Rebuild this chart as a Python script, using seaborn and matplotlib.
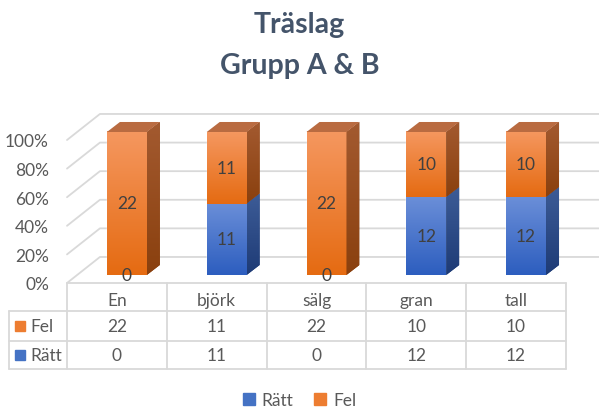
import numpy as np
import pandas as pd
import matplotlib
matplotlib.use("Agg")
import matplotlib.pyplot as plt
from matplotlib.patches import Polygon, Patch
from matplotlib.colors import LinearSegmentedColormap
import seaborn as sns

# data
categories = ["En", "björk", "sälg", "gran", "tall"]
ratt = [0, 11, 0, 12, 12]
fel = [22, 11, 22, 10, 10]
series_names = ["Rätt", "Fel"]
title_lines = ["Träslag", "Grupp A & B"]
yticks = [0, 20, 40, 60, 80, 100]

df = pd.DataFrame({"Träslag": categories, "Rätt": ratt, "Fel": fel})
df["Rätt %"] = 100 * df["Rätt"] / (df["Rätt"] + df["Fel"])
df["Total %"] = 100.0

sns.set_theme(style="white")
plt.rcParams["font.family"] = ["Lato", "DejaVu Sans"]

ORANGE = "#ED7D31"
BLUE = "#4472C4"
TXT = "#595959"
GRID = "#D9D9D9"
FS = 12.5

W, H = 599, 410
fig = plt.figure(figsize=(W / 100, H / 100), dpi=100, facecolor="white")


def box(x0, y_bottom, w, h):
    # pixel box (top-left origin) -> figure fraction
    return [x0 / W, 1 - y_bottom / H, w / W, h / H]


# front plane of the 3D floor / walls
ax = fig.add_axes(box(67, 284, 499, 143))
ax.patch.set_visible(False)
ax.set_xlim(-0.5, 4.5)
ax.set_ylim(0, 100)
for s in ax.spines.values():
    s.set_visible(False)
ax.set_xticks([])
ax.set_yticks(yticks)
ax.set_yticklabels([f"{t}%" for t in yticks], color=TXT, fontsize=FS)
ax.tick_params(axis="y", length=0, pad=13)

# perspective offset of the back wall (in data units)
bx, by = 0.33, 18.2
for t in yticks:
    ax.plot([-0.5, -0.5 + bx, 4.5 + bx], [t, t + by, t + by],
            color=GRID, lw=1.3, clip_on=False, zorder=0)

# data table under the chart
rows = [-19.6, -40.6, -60.1]
xl = -1.08
ax.plot([-0.5, 4.5], [0, 0], color=GRID, lw=1.3, clip_on=False)
for r in rows:
    ax.plot([xl, 4.5], [r, r], color=GRID, lw=1.3, clip_on=False)
for v in np.arange(-0.5, 4.6, 1):
    ax.plot([v, v], [0, rows[-1]], color=GRID, lw=1.3, clip_on=False)
ax.plot([xl, xl], [rows[0], rows[-1]], color=GRID, lw=1.3, clip_on=False)

for i, c in enumerate(categories):
    ax.text(i, -12.0, c, ha="center", va="center", color=TXT, fontsize=FS)
    ax.text(i, -29.8, str(fel[i]), ha="center", va="center", color=TXT, fontsize=FS)
    ax.text(i, -50.3, str(ratt[i]), ha="center", va="center", color=TXT, fontsize=FS)

for y, name, col in [(-29.8, "Fel", ORANGE), (-50.3, "Rätt", BLUE)]:
    ax.plot([-0.966], [y], marker="s", ms=6.5, color=col, clip_on=False)
    ax.text(-0.865, y, name, ha="left", va="center", color=TXT, fontsize=FS)

# bars (front faces sit half the depth behind the floor front edge)
axb = fig.add_axes(box(77, 276, 499, 143 * 1.2))
sns.barplot(data=df, x="Träslag", y="Total %", color=ORANGE, width=0.4,
            saturation=1, ax=axb)
sns.barplot(data=df, x="Träslag", y="Rätt %", color=BLUE, width=0.4,
            saturation=1, ax=axb)
axb.set_xlim(-0.5, 4.5)
axb.set_ylim(0, 120)
axb.axis("off")
axb.patch.set_visible(False)

dx, dy = 0.13, 7.0


def gradient(a, extent, top, bottom, clip=None, z=3):
    cmap = LinearSegmentedColormap.from_list("g", [bottom, top])
    g = np.linspace(0, 1, 64).reshape(-1, 1)
    im = a.imshow(g, cmap=cmap, extent=extent, origin="lower", aspect="auto",
                  interpolation="bilinear", zorder=z)
    if clip is not None:
        im.set_clip_path(clip)


styles = {
    "o": dict(front=("#F5975F", "#E56B12"), side=("#A35A30", "#8A400E")),
    "b": dict(front=("#6A8ED8", "#2D5EBF"), side=("#3D5C97", "#1E3B76")),
}

for i, (po, pb) in enumerate(zip(axb.containers[0], axb.containers[1])):
    x0 = po.get_x()
    x1 = x0 + po.get_width()
    b = pb.get_height()
    segs = [("b", 0, b), ("o", b, po.get_height())]
    for key, y0, y1 in segs:
        if y1 <= y0:
            continue
        st = styles[key]
        gradient(axb, (x0, x1, y0, y1), *st["front"])
        side = Polygon([(x1, y0), (x1 + dx, y0 + dy), (x1 + dx, y1 + dy), (x1, y1)],
                       closed=True, facecolor=st["side"][1], edgecolor="none", zorder=2)
        axb.add_patch(side)
        gradient(axb, (x1, x1 + dx, y0, y1 + dy), *st["side"], clip=side)
    top = po.get_height()
    axb.add_patch(Polygon([(x0, top), (x1, top), (x1 + dx, top + dy), (x0 + dx, top + dy)],
                          closed=True, facecolor="#B96B41", edgecolor="none", zorder=3))
    axb.text(i, (b + top) / 2, str(fel[i]), ha="center", va="center",
             color="#404040", fontsize=FS, zorder=5)
    axb.text(i, b / 2, str(ratt[i]), ha="center", va="center",
             color="#404040", fontsize=FS, zorder=5)

# title
fig.text(0.5, 1 - 25 / H, title_lines[0], ha="center", va="center",
         fontsize=20.5, fontweight="bold", color="#44546A")
fig.text(0.5, 1 - 66 / H, title_lines[1], ha="center", va="center",
         fontsize=20.5, fontweight="bold", color="#44546A")

# legend
handles = [Patch(color=BLUE), Patch(color=ORANGE)]
fig.legend(handles, series_names, loc="center", bbox_to_anchor=(0.5, 1 - 401 / H),
           ncol=2, frameon=False, fontsize=12.5, handlelength=0.7, handleheight=0.7,
           handletextpad=0.4, columnspacing=1.2, labelcolor=TXT)

fig.savefig("out.png", dpi=100, facecolor="white")
